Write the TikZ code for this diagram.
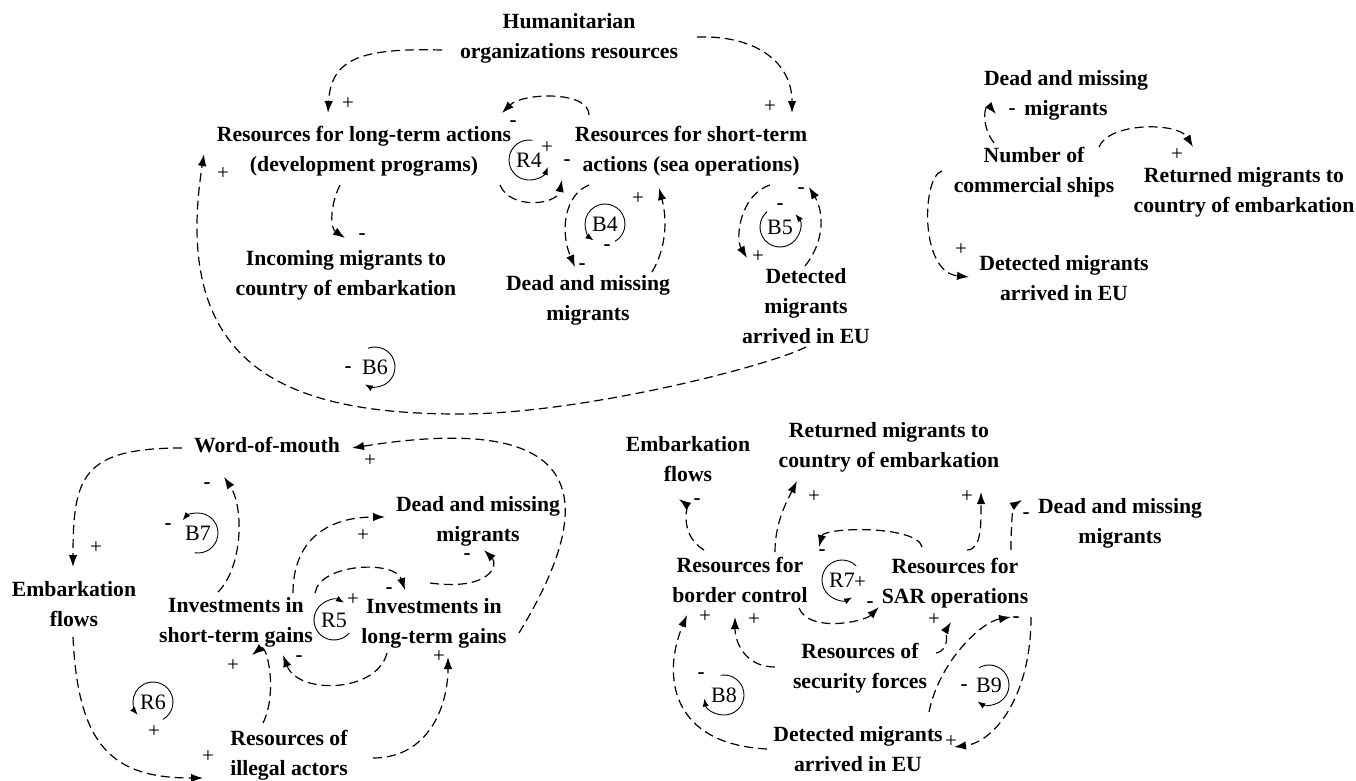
\documentclass[tikz,border=0pt]{standalone}
\usepackage{fontspec}
\setmainfont{Liberation Serif}
\usetikzlibrary{arrows.meta,calc}

\tikzset{
  cvar/.style={font=\bfseries\fontsize{21.7}{30}\selectfont, align=center, inner sep=0pt},
  link/.style={-{Latex[length=12pt,width=8.5pt]}, line width=1.2pt, dash pattern=on 9pt off 5pt},
  pol/.style={font=\fontsize{21}{24}\selectfont, inner sep=0pt},
  neg/.style={font=\bfseries\fontsize{21}{24}\selectfont, inner sep=0pt},
  looptxt/.style={font=\fontsize{22}{24}\selectfont, inner sep=0pt},
  looparc/.style={-{Latex[length=8pt,width=6pt]}, line width=0.9pt}
}

\begin{document}
\begin{tikzpicture}[x=1pt,y=1pt]
\useasboundingbox (0,0) rectangle (1356,-780);

% top left: sea operations and development programs
\node[cvar] (hum) at (569,-38) {Humanitarian\\organizations resources};
\node[cvar] (rlt) at (364,-151) {Resources for long-term actions\\(development programs)};
\node[cvar] (rst) at (691,-151) {Resources for short-term\\actions (sea operations)};
\node[cvar] (inc) at (346,-275) {Incoming migrants to\\country of embarkation};
\node[cvar] (dmA) at (588,-300) {Dead and missing\\migrants};
\node[cvar] (detA) at (806,-306) {Detected\\migrants\\arrived in EU};
\coordinate (b6low) at (460,-414);

\draw[link] ($(hum)+(-127,-12)$) .. controls +(-80,2) and +(3,55) .. ($(rlt)+(-36,38)$);
\draw[link] ($(hum)+(128,1)$) .. controls +(60,2) and +(0,50) .. ($(rst)+(101,38)$);
\draw[link] ($(rst)+(-102,36)$) .. controls +(0,25) and +(20,20) .. ($(rlt)+(138,38)$);
\draw[link] ($(rlt)+(136,-34)$) .. controls +(10,-25) and +(-5,-25) .. ($(rst)+(-129,-29)$);
\draw[link] ($(rlt)+(-24,-34)$) .. controls +(-10,-20) and +(-15,10) .. ($(inc)+(-1,37)$);
\draw[link] ($(detA)+(0,-41)$) .. controls +(-40,-20) and +(120,0) .. (b6low)
  .. controls +(-170,0) and +(-34,-216) .. ($(rlt)+(-160,-3)$);
\draw[link] ($(rst)+(-102,-34)$) .. controls +(-25,-10) and +(-15,35) .. ($(dmA)+(-13,33)$);
\draw[link] ($(dmA)+(64,28)$) .. controls +(15,25) and +(8,-30) .. ($(rst)+(-32,-37)$);
\draw[link] ($(rst)+(79,-34)$) .. controls +(-30,-10) and +(-12,20) .. ($(detA)+(-59,48)$);
\draw[link] ($(detA)+(-1,40)$) .. controls +(20,25) and +(15,-25) .. ($(rst)+(118,-36)$);

% top right: commercial ships
\node[cvar] (dmT) at (1066,-95) {Dead and missing\\migrants};
\node[cvar] (ships) at (1034,-172) {Number of\\commercial ships};
\node[cvar] (retT) at (1244,-192) {Returned migrants to\\country of embarkation};
\node[cvar] (detT) at (1064,-278) {Detected migrants\\arrived in EU};

\draw[link] ($(ships)+(-40,29)$) .. controls +(-15,20) and +(-10,12) .. ($(dmT)+(-70,-19)$);
\draw[link] ($(ships)+(65,25)$) .. controls +(10,25) and +(-15,25) .. ($(retT)+(-51,45)$);
\draw[link] ($(ships)+(-92,1)$) .. controls +(-20,-5) and +(-50,5) .. ($(detT)+(-95,1)$);

% bottom left: illegal actors
\node[cvar] (wom) at (267,-445) {Word-of-mouth};
\node[cvar] (emb) at (74,-604) {Embarkation\\flows};
\node[cvar] (ist) at (236,-622) {Investments in\\short-term gains};
\node[cvar] (ilt) at (434,-623) {Investments in\\long-term gains};
\node[cvar] (dmB) at (478,-521) {Dead and missing\\migrants};
\node[cvar] (ill) at (289,-755) {Resources of\\illegal actors};

\draw[link] ($(wom)+(-85,-3)$) .. controls +(-100,0) and +(0,90) .. ($(emb)+(-1,37)$);
\draw[link] ($(emb)+(-1,-33)$) .. controls +(5,-110) and +(-90,0) .. ($(ill)+(-86,-23)$);
\draw[link] ($(ist)+(-18,30)$) .. controls +(25,25) and +(20,-30) .. ($(wom)+(-43,-32)$);
\draw[link] ($(ill)+(-26,32)$) .. controls +(15,30) and +(15,12) .. ($(ist)+(16,-33)$);
\draw[link] ($(ist)+(57,29)$) .. controls +(0,55) and +(-55,0) .. ($(dmB)+(-93,4)$);
\draw[link] ($(ist)+(79,29)$) .. controls +(5,30) and +(-10,30) .. ($(ilt)+(-29,33)$);
\draw[link] ($(ilt)+(-47,-30)$) .. controls +(-10,-40) and +(15,-40) .. ($(ist)+(47,-33)$);
\draw[link] ($(ill)+(84,-3)$) .. controls +(55,0) and +(0,-50) .. ($(ilt)+(14,-34)$);
\draw[link] ($(ilt)+(-4,40)$) .. controls +(60,-8) and +(15,-15) .. ($(dmB)+(6,-29)$);
\draw[link] ($(ilt)+(85,-10)$) .. controls +(81,133) and +(238,38) .. ($(wom)+(85,-3)$);

% bottom right: border control and SAR
\node[cvar] (embR) at (688,-459) {Embarkation\\flows};
\node[cvar] (retR) at (889,-447) {Returned migrants to\\country of embarkation};
\node[cvar] (rbc) at (740,-580) {Resources for\\border control};
\node[cvar] (rsar) at (955,-583) {Resources for\\SAR operations};
\node[cvar] (dmR) at (1120,-523) {Dead and missing\\migrants};
\node[cvar] (rsf) at (860,-668) {Resources of\\security forces};
\node[cvar] (detR) at (858,-749) {Detected migrants\\arrived in EU};

\draw[link] ($(rbc)+(-36,30)$) .. controls +(-25,15) and +(8,-6) .. ($(embR)+(-9,-40)$);
\draw[link] ($(rbc)+(35,28)$) .. controls +(0,30) and +(-10,-20) .. ($(retR)+(-92,-34)$);
\draw[link] ($(rsar)+(-33,36)$) .. controls +(-5,22) and +(5,20) .. ($(rbc)+(79,33)$);
\draw[link] ($(rbc)+(59,-28)$) .. controls +(10,-25) and +(-15,-15) .. ($(rsar)+(-76,-24)$);
\draw[link] ($(rsar)+(12,33)$) .. controls +(15,0) and +(0,-30) .. ($(retR)+(92,-45)$);
\draw[link] ($(rsar)+(56,33)$) .. controls +(0,35) and +(-8,-5) .. ($(dmR)+(-98,23)$);
\draw[link] ($(rsf)+(-85,1)$) .. controls +(-30,0) and +(0,-25) .. ($(rbc)+(-5,-37)$);
\draw[link] ($(rsf)+(76,15)$) .. controls +(15,3) and +(-5,-8) .. ($(rsar)+(-4,-39)$);
\draw[link] ($(detR)+(-91,0)$) .. controls +(-97,5) and +(-25,-60) .. ($(rbc)+(-53,-35)$);
\draw[link] ($(detR)+(71,37)$) .. controls +(10,50) and +(-30,-5) .. ($(rsar)+(56,-34)$);
\draw[link] ($(rsar)+(76,-34)$) .. controls +(0,-80) and +(40,5) .. ($(detR)+(96,2)$);

% loop markers
\foreach \lx/\ly/\lab/\sa/\ea in {529/160/R4/80/340, 605/224/B4/-60/235, 780/227/B5/130/400,
    375/367/B6/110/-120, 198/533/B7/-100/140, 153/702/R6/-60/220, 334/620/R5/-40/-300,
    842/580/R7/45/300, 724/695/B8/100/-170, 989/685/B9/120/-125} {
  \node[looptxt] (lp\lab) at (\lx,-\ly) {\lab};
  \draw[looparc] ($(lp\lab)+(\sa:20)$) arc[start angle=\sa, end angle=\ea, radius=20];
}

% polarities
\foreach \px/\py [count=\i] in {348/104, 770/107, 547/148, 638/199, 758/257, 223/174,
    1177/155, 961/250, 96/548, 233/666, 363/536, 353/600, 439/657, 370/461, 154/732,
    208/757, 814/497, 860/583, 967/497, 754/620, 934/620, 705/617, 951/742}
  \node[pol] (plus\i) at (\px,-\py) {+};
\foreach \mx/\my [count=\i] in {513/124, 567/163, 362/237, 582/267, 607/248, 780/207,
    801/191, 348/370, 1012/112, 207/486, 168/527, 389/591, 299/659, 467/557, 697/502,
    822/553, 870/605, 1026/516, 1016/620, 701/676, 964/688}
  \node[neg] (minus\i) at (\mx,-\my) {-};
\end{tikzpicture}
\end{document}
